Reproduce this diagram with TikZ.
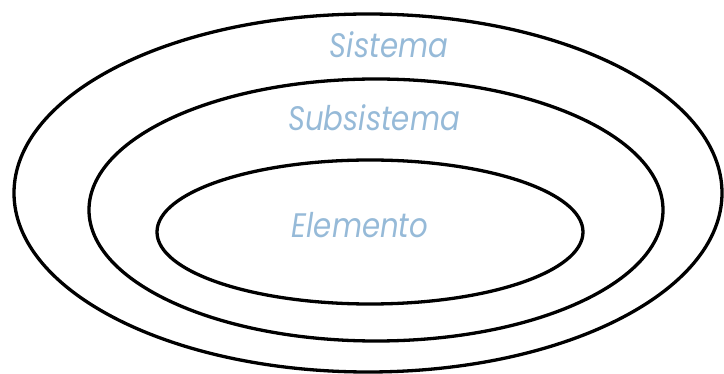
\documentclass[tikz,border=0pt]{standalone}
\usepackage{fontspec}
\setmainfont{Poppins}[FakeStretch=0.86]
\definecolor{labelblue}{RGB}{150,186,216}
\begin{document}
\begin{tikzpicture}[x=1pt,y=-1pt,
  ring/.style={draw=black,line width=3.3pt},
  lab/.style={text=labelblue,font=\fontsize{34}{34}\selectfont\itshape,anchor=base,inner sep=0pt}]
\useasboundingbox (0,0) rectangle (724,374);
% nested ellipses
\draw[ring] (368,193) ellipse [x radius=354, y radius=179];
\draw[ring] (376,210) ellipse [x radius=287, y radius=131];
\draw[ring] (370,232) ellipse [x radius=213, y radius=72];
% labels
\node[lab] (sis) at (389,58) {Sistema};
\node[lab] (sub) at (374,131) {Subsistema};
\node[lab] (ele) at (360,238) {Elemento};
\end{tikzpicture}
\end{document}
